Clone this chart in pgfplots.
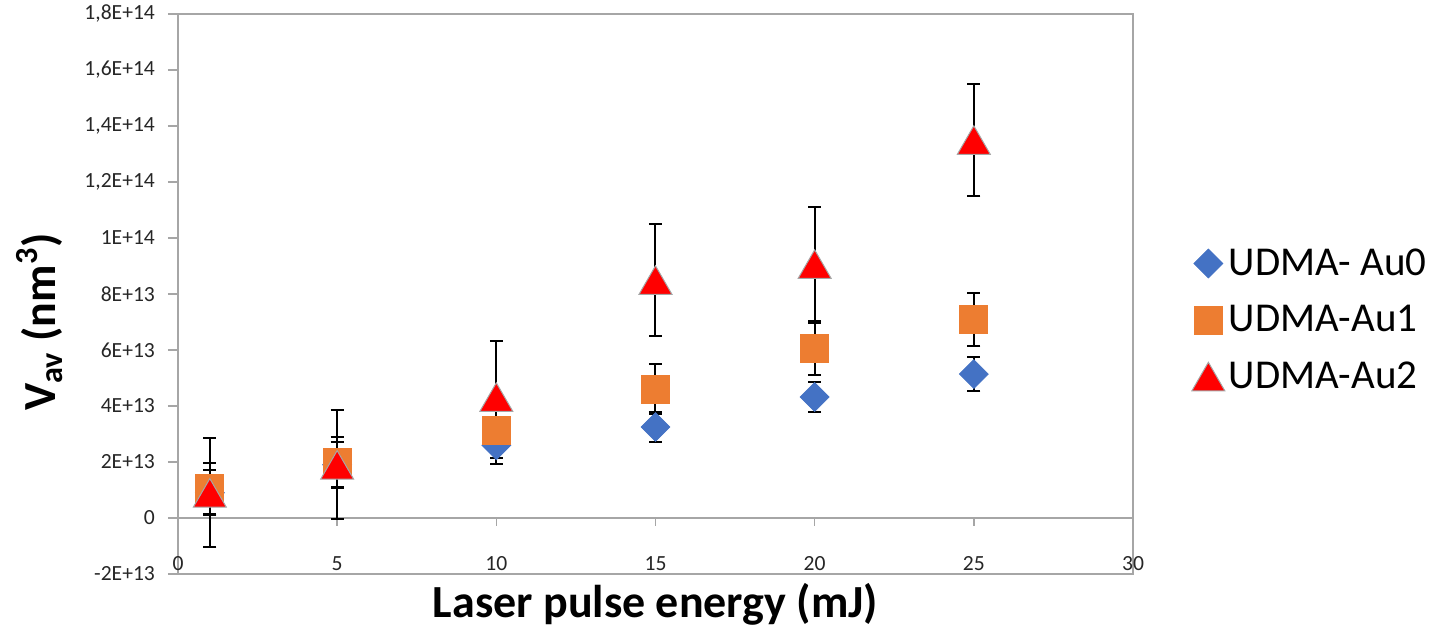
\documentclass[border=0pt]{standalone}
\usepackage{fontspec}
\setmainfont{Carlito}
\usepackage{pgfplots}
\pgfplotsset{compat=1.18}
\definecolor{auzero}{HTML}{4472C4}
\definecolor{auone}{HTML}{ED7D31}
\definecolor{autwo}{HTML}{FF0000}
\definecolor{axgray}{HTML}{A6A6A6}

% x, value, error (values in units of 1E13)
\pgfplotstableread{
x   y     e
1   0.90  0.80
5   1.90  0.80
10  2.60  0.67
15  3.25  0.54
20  4.32  0.53
25  5.14  0.60
}\auzerodata
\pgfplotstableread{
x   y     e
1   1.05  0.90
5   1.98  0.92
10  3.14  1.00
15  4.60  0.90
20  6.04  0.93
25  7.10  0.95
}\auonedata
\pgfplotstableread{
x   y     e
1   0.90  1.95
5   1.90  1.95
10  4.32  2.00
15  8.50  2.00
20  9.07  2.05
25  13.50 2.00
}\autwodata

\begin{document}
\begin{tikzpicture}
\useasboundingbox (-89pt,-29pt) rectangle (634.5pt,287pt);
\begin{axis}[
    scale only axis,
    width=477.5pt, height=280pt,
    xmin=0, xmax=30, ymin=-2, ymax=18,
    clip=false,
    axis line style={axgray, line width=0.8pt},
    xtick={0,5,...,30},
    xticklabels={0,5,10,15,20,25,30},
    ytick={-2,0,...,18},
    yticklabels={-2E+13,0,2E+13,4E+13,6E+13,8E+13,1E+14,{1,2E+14},{1,4E+14},{1,6E+14},{1,8E+14}},
    xtick style={draw=none},
    ytick style={axgray, line width=0.8pt},
    tick align=outside,
    ytick pos=left,
    major tick length=5pt,
    tick label style={font=\fontsize{10.8}{12}\selectfont, text=black!85},
    xticklabel style={anchor=center, yshift=10pt},
    yticklabel style={xshift=-3pt},
    xlabel={\textbf{Laser pulse energy (mJ)}},
    ylabel={\textbf{V\textsubscript{av} (nm\textsuperscript{3})}},
    label style={font=\fontsize{23}{26}\selectfont},
    xlabel style={at={(axis description cs:0.5,-0.055)}, anchor=center},
    ylabel style={at={(axis description cs:-0.145,0.45)}, anchor=center, rotate=0},
    legend style={at={(1.055,0.4536)}, anchor=west, draw=none, fill=none,
        font=\fontsize{20.5}{22}\selectfont, row sep=9.5pt,
        /tikz/every even column/.append style={column sep=2pt}},
    legend cell align=left,
    error bars/error bar style={black, line width=1pt},
    error bars/error mark options={rotate=90, mark size=3.25pt, line width=1pt, black},
]
% zero line with its tick marks
\draw[axgray, line width=0.8pt] (axis cs:0,0) -- (axis cs:30,0);
\pgfplotsinvokeforeach{0,5,...,30}{\draw[axgray, line width=0.8pt] (axis cs:#1,0) -- ([yshift=-4pt]axis cs:#1,0);}

% error bars first, behind all markers
\addplot[only marks, mark=none, forget plot, error bars/.cd, y dir=both, y explicit]
    table[x=x, y=y, y error=e] {\auzerodata};
\addplot[only marks, mark=none, forget plot, error bars/.cd, y dir=both, y explicit]
    table[x=x, y=y, y error=e] {\auonedata};
\addplot[only marks, mark=none, forget plot, error bars/.cd, y dir=both, y explicit]
    table[x=x, y=y, y error=e] {\autwodata};

\addplot[only marks, mark=square*, mark size=5.1pt,
    mark options={rotate=45, fill=auzero, draw=auzero}]
    table[x=x, y=y] {\auzerodata};
\addlegendentry{UDMA- Au0}
\addplot[only marks, mark=square*, mark size=7pt,
    mark options={fill=auone, draw=auone}]
    table[x=x, y=y] {\auonedata};
\addlegendentry{UDMA-Au1}
\addplot[only marks, mark=triangle*, mark size=9.5pt,
    mark options={fill=autwo, draw=gray!70, line width=0.5pt, yshift=-2.4pt}]
    table[x=x, y=y] {\autwodata};
\addlegendentry{UDMA-Au2}
\end{axis}
\end{tikzpicture}
\end{document}
